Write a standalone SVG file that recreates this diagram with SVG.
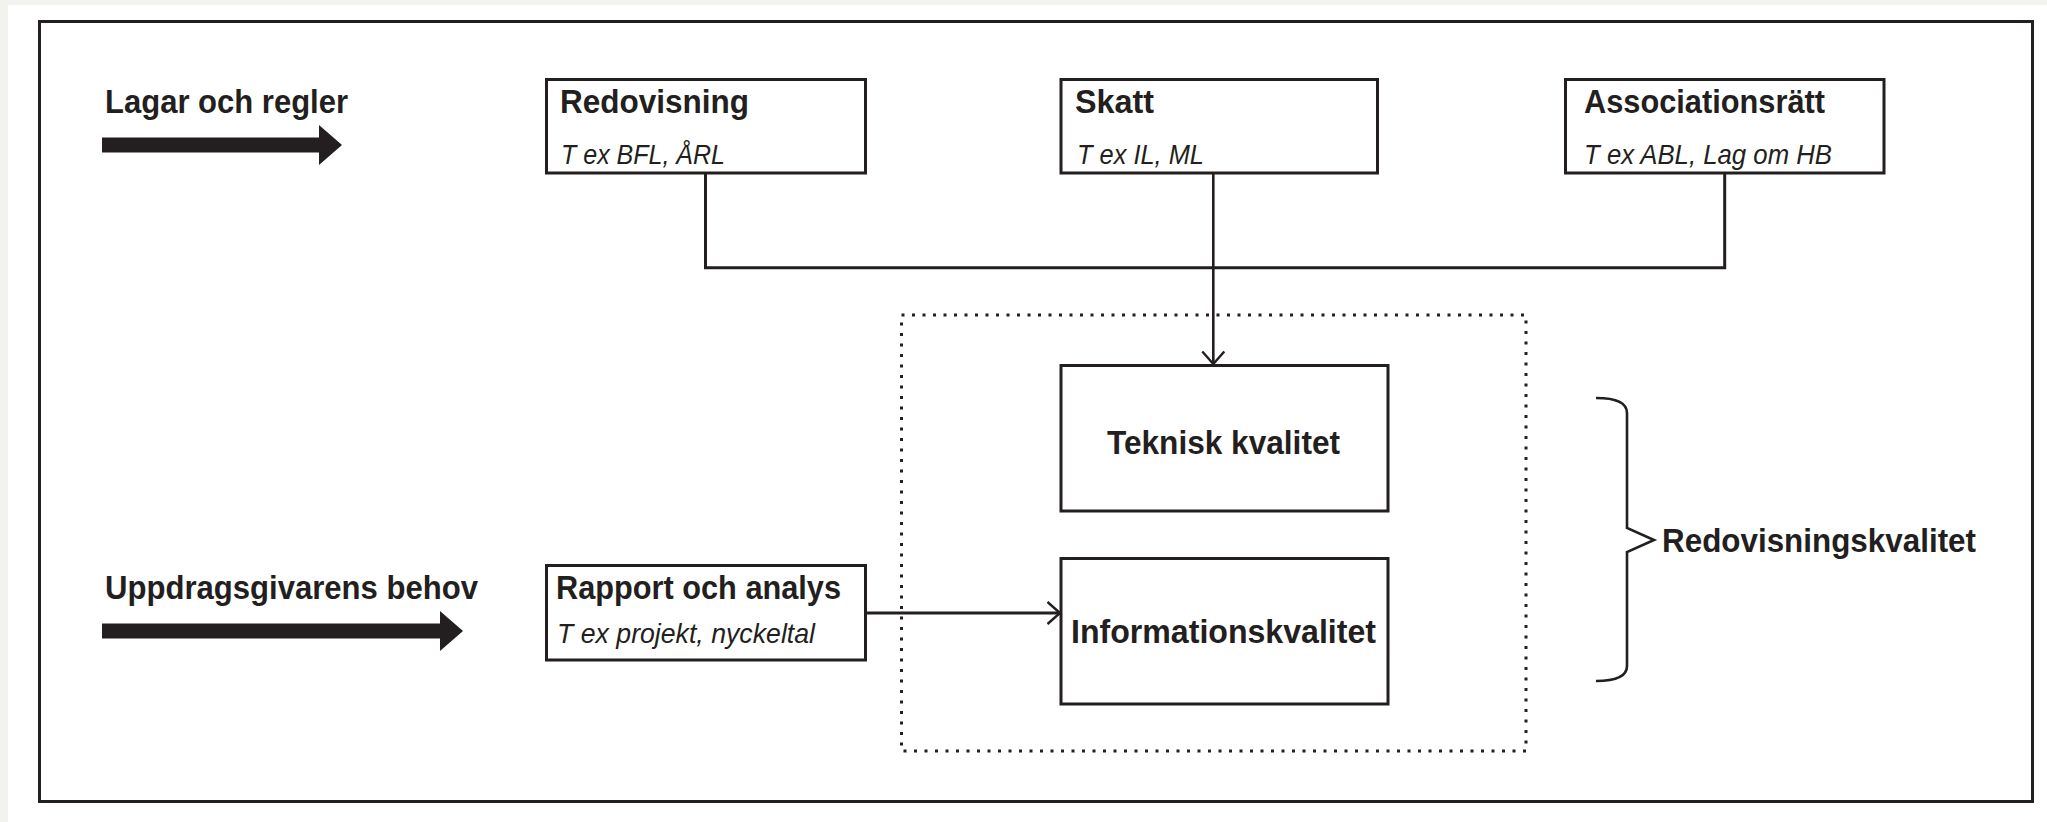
<svg xmlns="http://www.w3.org/2000/svg" width="2047" height="822" viewBox="0 0 2047 822">
<defs>
<style>
.bg{fill:#f2f2ee}
.frame{fill:#ffffff;stroke:#231f20;stroke-width:3}
.box{fill:#ffffff;stroke:#231f20;stroke-width:3}
.dot{fill:none;stroke:#231f20;stroke-width:3;stroke-dasharray:3 7.5}
.conn{fill:none;stroke:#231f20;stroke-width:3}
.thin{fill:none;stroke:#231f20;stroke-width:2.6}
.big{fill:#231f20}
.t{font-family:"Liberation Sans",Arial,sans-serif;font-weight:bold;font-size:34px;fill:#231f20}
.s{font-family:"Liberation Sans",Arial,sans-serif;font-style:italic;font-size:28px;fill:#231f20}
</style>
<marker id="chev" viewBox="0 0 15 24" refX="13.5" refY="12" markerWidth="15" markerHeight="24" markerUnits="userSpaceOnUse" orient="auto">
<path d="M1,1 L13.5,12 L1,23" fill="none" stroke="#231f20" stroke-width="2.4"/>
</marker>
</defs>
<rect x="0" y="0" width="2047" height="822" fill="#ffffff"/>
<rect class="bg" x="0" y="0" width="2047" height="5"/>
<rect class="bg" x="0" y="0" width="8" height="822"/>
<rect class="frame" x="39.5" y="21.5" width="1993" height="780"/>

<g id="lagar">
<text class="t" x="105" y="113" textLength="243" lengthAdjust="spacingAndGlyphs">Lagar och regler</text>
<rect class="big" x="102" y="137.5" width="219" height="15"/>
<polygon class="big" points="319,125 342,145 319,165"/>
</g>

<g id="uppdrag">
<text class="t" x="105" y="599" textLength="373" lengthAdjust="spacingAndGlyphs">Uppdragsgivarens behov</text>
<rect class="big" x="102" y="623.5" width="340" height="15"/>
<polygon class="big" points="440,611 463,631 440,651"/>
</g>

<g id="redovisning">
<rect class="box" x="546.5" y="79.5" width="319" height="93.5"/>
<text class="t" x="560" y="113.3" textLength="189" lengthAdjust="spacingAndGlyphs">Redovisning</text>
<text class="s" x="561" y="164.3" textLength="164" lengthAdjust="spacingAndGlyphs">T ex BFL, ÅRL</text>
</g>

<g id="skatt">
<rect class="box" x="1061" y="79.5" width="316.5" height="93.5"/>
<text class="t" x="1075" y="113.3" textLength="79" lengthAdjust="spacingAndGlyphs">Skatt</text>
<text class="s" x="1077" y="164.3" textLength="127" lengthAdjust="spacingAndGlyphs">T ex IL, ML</text>
</g>

<g id="associationsratt">
<rect class="box" x="1565.5" y="79.5" width="318.5" height="93.5"/>
<text class="t" x="1584" y="113.3" textLength="241" lengthAdjust="spacingAndGlyphs">Associationsrätt</text>
<text class="s" x="1584" y="164.3" textLength="248" lengthAdjust="spacingAndGlyphs">T ex ABL, Lag om HB</text>
</g>

<g id="kvalitetsram">
<rect class="dot" x="901.5" y="315" width="624.5" height="436"/>
</g>

<g id="teknisk">
<rect class="box" x="1061" y="365.5" width="327" height="145.5"/>
<text class="t" x="1107" y="454" textLength="233" lengthAdjust="spacingAndGlyphs">Teknisk kvalitet</text>
</g>

<g id="information">
<rect class="box" x="1061" y="558.5" width="327" height="145.5"/>
<text class="t" x="1071" y="642.7" textLength="305" lengthAdjust="spacingAndGlyphs">Informationskvalitet</text>
</g>

<g id="rapport">
<rect class="box" x="546.5" y="565.5" width="319" height="94.5"/>
<text class="t" x="556" y="599" textLength="285" lengthAdjust="spacingAndGlyphs">Rapport och analys</text>
<text class="s" x="557" y="643" textLength="258" lengthAdjust="spacingAndGlyphs">T ex projekt, nyckeltal</text>
</g>

<g id="redovisningskvalitet">
<path class="thin" d="M1596,398 Q1627,398 1627,413 L1627,528 L1654,540 L1627,552 L1627,666 Q1627,681 1596,681"/>
<text class="t" x="1662" y="551.7" textLength="314" lengthAdjust="spacingAndGlyphs">Redovisningskvalitet</text>
</g>

<g id="connectors">
<path class="conn" d="M705.5,173 L705.5,267.7 L1724.7,267.7 L1724.7,173"/>
<path class="thin" d="M1213.3,173 L1213.3,364" marker-end="url(#chev)"/>
<path class="conn" d="M865.5,613 L1060,613" marker-end="url(#chev)"/>
</g>
</svg>
